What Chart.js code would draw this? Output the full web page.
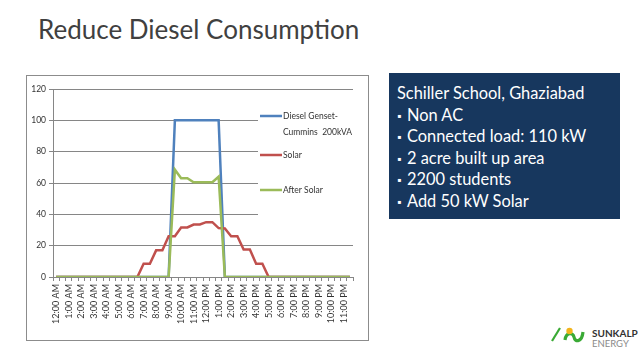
<!DOCTYPE html>
<html>
<head>
<meta charset="utf-8">
<script src="https://cdn.jsdelivr.net/npm/chart.js@4"></script>
<style>
  body { margin: 0; width: 638px; height: 359px; background: #fff; position: relative; overflow: hidden; font-family: Lato, "Open Sans", sans-serif; }
  #title { position: absolute; left: 38px; top: 13px; font-size: 26px; color: #404040; white-space: nowrap; }
  #frame { position: absolute; left: 26px; top: 75px; width: 341px; height: 264px; border: 1px solid #8c8c8c; }
  #frame canvas { position: absolute; left: 0; top: 0; }
  #info { position: absolute; left: 389px; top: 73px; width: 231px; height: 146px; background: #17375e; color: #fff; box-sizing: border-box; padding: 9px 0 0 8px; font-size: 16.4px; line-height: 21.6px; }
  #info div { height: 21.6px; white-space: nowrap; }
  #info .b { display: inline-block; width: 10px; font-size: 11px; line-height: 10px; vertical-align: 1px; }
  #logo { position: absolute; left: 548px; top: 320px; }
</style>
</head>
<body>
<div id="title">Reduce Diesel Consumption</div>
<div id="frame"><canvas id="dieselChart" width="341" height="264"></canvas></div>
<div id="info">
  <div>Schiller School, Ghaziabad</div>
  <div><span class="b">▪</span>Non AC</div>
  <div><span class="b">▪</span>Connected load: 110 kW</div>
  <div><span class="b">▪</span>2 acre built up area</div>
  <div><span class="b">▪</span>2200 students</div>
  <div><span class="b">▪</span>Add 50 kW Solar</div>
</div>
<svg id="logo" width="90" height="30" viewBox="0 0 90 30">
  <line x1="4" y1="21" x2="12" y2="8" stroke="#3aaa35" stroke-width="2.2"/>
  <path d="M17 20 C18 12, 25 12, 26 17 C27 23, 34 22, 35 12" fill="none" stroke="#3aaa35" stroke-width="3.2"/>
  <circle cx="21.5" cy="11" r="3.2" fill="#f2b41c"/>
  <text x="44" y="17" font-family="Lato, sans-serif" font-weight="bold" font-size="10" fill="#333">SUNKALP</text>
  <text x="44" y="27" font-family="Lato, sans-serif" font-size="9.5" fill="#8a8a8a">ENERGY</text>
</svg>
<script>
const times = [
  '12:00 AM', '12:30 AM', '1:00 AM', '1:30 AM', '2:00 AM', '2:30 AM', '3:00 AM', '3:30 AM',
  '4:00 AM', '4:30 AM', '5:00 AM', '5:30 AM', '6:00 AM', '6:30 AM', '7:00 AM', '7:30 AM',
  '8:00 AM', '8:30 AM', '9:00 AM', '9:30 AM', '10:00 AM', '10:30 AM', '11:00 AM', '11:30 AM',
  '12:00 PM', '12:30 PM', '1:00 PM', '1:30 PM', '2:00 PM', '2:30 PM', '3:00 PM', '3:30 PM',
  '4:00 PM', '4:30 PM', '5:00 PM', '5:30 PM', '6:00 PM', '6:30 PM', '7:00 PM', '7:30 PM',
  '8:00 PM', '8:30 PM', '9:00 PM', '9:30 PM', '10:00 PM', '10:30 PM', '11:00 PM', '11:30 PM'
];
const diesel = [
  0, 0, 0, 0, 0, 0, 0, 0, 0, 0, 0, 0, 0, 0, 0, 0, 0, 0, 0,
  100, 100, 100, 100, 100, 100, 100, 100,
  0, 0, 0, 0, 0, 0, 0, 0, 0, 0, 0, 0, 0, 0, 0, 0, 0, 0, 0, 0, 0
];
const solar = [
  0, 0, 0, 0, 0, 0, 0, 0, 0, 0, 0, 0, 0, 0,
  8.5, 8.5, 17, 17, 26, 26, 31.6, 31.6, 33.5, 33.5, 35, 35, 31.2, 31, 26, 26, 17.5, 17.5, 8.5, 8.5,
  0, 0, 0, 0, 0, 0, 0, 0, 0, 0, 0, 0, 0, 0
];
const afterSolar = [
  0, 0, 0, 0, 0, 0, 0, 0, 0, 0, 0, 0, 0, 0, 0, 0, 0, 0, 0,
  68.5, 63, 63, 60.5, 60.5, 60.5, 60.5, 64,
  0, 0, 0, 0, 0, 0, 0, 0, 0, 0, 0, 0, 0, 0, 0, 0, 0, 0, 0, 0, 0
];
const yTicks = [0, 20, 40, 60, 80, 100, 120];
const seriesNames = ['Diesel Genset-\nCummins  200kVA', 'Solar', 'After Solar'];
const seriesColors = ['#4f81bd', '#c0504d', '#9bbb59'];

// legend sits inside the plot on a white patch, like the Excel original
const boxLegend = {
  id: 'boxLegend',
  beforeDatasetsDraw(chart) {
    const c = chart.ctx;
    const a = chart.chartArea;
    c.save();
    c.fillStyle = '#fff';
    c.fillRect(a.right - 95, a.top + 4, 96, 143);
    const rows = [27, 66, 101];
    c.font = '8.5px Lato, sans-serif';
    c.fillStyle = '#333';
    c.textBaseline = 'middle';
    chart.data.datasets.forEach((ds, i) => {
      const y = a.top + rows[i];
      c.strokeStyle = ds.borderColor;
      c.lineWidth = 2.5;
      c.beginPath();
      c.moveTo(a.right - 93, y);
      c.lineTo(a.right - 71, y);
      c.stroke();
      ds.label.split('\n').forEach((t, j) => c.fillText(t, a.right - 70, y + j * 16));
    });
    c.restore();
  }
};

const ctx = document.getElementById('dieselChart').getContext('2d');
new Chart(ctx, {
  type: 'line',
  data: {
    labels: times,
    datasets: [
      { label: seriesNames[0], data: diesel, borderColor: seriesColors[0], order: 3 },
      { label: seriesNames[1], data: solar, borderColor: seriesColors[1], order: 2 },
      { label: seriesNames[2], data: afterSolar, borderColor: seriesColors[2], order: 1 }
    ]
  },
  options: {
    responsive: false,
    animation: false,
    devicePixelRatio: 1,
    layout: { padding: { left: 0, right: 15, top: 13, bottom: 0 } },
    elements: {
      line: { borderWidth: 2.5, tension: 0 },
      point: { radius: 0 }
    },
    scales: {
      x: {
        offset: true,
        afterFit(scale) { scale.height = 63; },
        grid: { offset: true, drawOnChartArea: false, drawTicks: true, tickLength: 4, color: '#868686' },
        border: { color: '#868686' },
        ticks: {
          autoSkip: false,
          maxRotation: 90,
          minRotation: 90,
          padding: 3,
          color: '#333',
          font: { family: 'Lato', size: 9 },
          callback: (v, i) => (i % 2 === 0 ? times[i] : '')
        }
      },
      y: {
        min: 0,
        max: 120,
        afterFit(scale) { scale.width = 26; },
        afterBuildTicks(scale) { scale.ticks = yTicks.map(v => ({ value: v })); },
        grid: { color: '#868686', tickLength: 4 },
        border: { color: '#868686' },
        ticks: { padding: 3, color: '#333', font: { family: 'Lato', size: 8.5 } }
      }
    },
    plugins: {
      legend: { display: false },
      tooltip: { enabled: false }
    }
  },
  plugins: [boxLegend]
});
</script>
</body>
</html>
